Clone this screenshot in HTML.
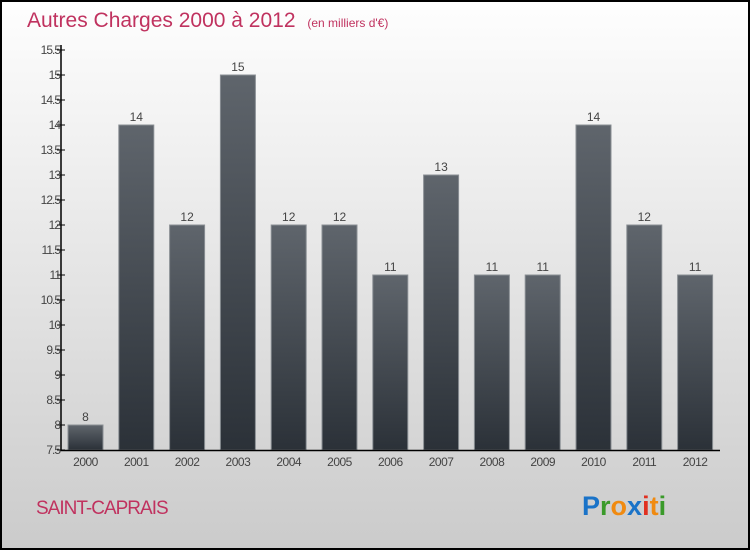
<!DOCTYPE html>
<html><head><meta charset="utf-8"><style>
body{margin:0;width:750px;height:550px;overflow:hidden}
svg{display:block;font-family:"Liberation Sans",sans-serif}
</style></head><body>
<svg id="c" width="750" height="550" xmlns="http://www.w3.org/2000/svg">
<defs>
<linearGradient id="bg" x1="0" y1="0" x2="0" y2="1"><stop offset="0" stop-color="#fefefe"/><stop offset="1" stop-color="#cbcbcb"/></linearGradient>
<linearGradient id="bar" x1="0" y1="0" x2="0" y2="1"><stop offset="0" stop-color="#5f656c"/><stop offset="1" stop-color="#2b3138"/></linearGradient>
</defs>
<rect x="1" y="1" width="748" height="548" fill="url(#bg)" stroke="#000" stroke-width="2"/>
<text x="27" y="27" font-size="21" fill="#c0325f">Autres Charges 2000 à 2012 <tspan font-size="12" dx="6">(en milliers d'€)</tspan></text>
<g id="bars"></g>
<g id="axes"></g>
<text x="36" y="514" font-size="19" fill="#c0325f" letter-spacing="-1">SAINT-CAPRAIS</text>
<text x="582" y="515" font-size="27" font-weight="bold"><tspan fill="#1a73c8">P</tspan><tspan fill="#3a9a2a">r</tspan><tspan fill="#f08a10">o</tspan><tspan fill="#1a73c8">x</tspan><tspan fill="#e03020">i</tspan><tspan fill="#f08a10">t</tspan><tspan fill="#3a9a2a">i</tspan></text>
</svg>
<script>
const years=["2000","2001","2002","2003","2004","2005","2006","2007","2008","2009","2010","2011","2012"];
const values=[8,14,12,15,12,12,11,13,11,11,14,12,11];
const yTicks=[7.5,8,8.5,9,9.5,10,10.5,11,11.5,12,12.5,13,13.5,14,14.5,15,15.5];
const NS="http://www.w3.org/2000/svg";
const y=v=>450-(v-7.5)*50;
const x=i=>68+i*50.8;
const bw=35;
function el(t,a,p){const e=document.createElementNS(NS,t);for(const k in a)e.setAttribute(k,a[k]);p.appendChild(e);return e;}
const bars=document.getElementById('bars'),axes=document.getElementById('axes');
values.forEach((v,i)=>{
 const r=el('rect',{x:x(i),y:y(v),width:bw,height:450-y(v),fill:'url(#bar)',stroke:'#8a8f94','stroke-width':1},bars);
 
 
 const t=el('text',{x:x(i)+bw/2,y:y(v)-4,'text-anchor':'middle','font-size':12,fill:'#444'},bars);
 t.textContent=v;
 
 
 const xl=el('text',{x:x(i)+bw/2,y:466,'text-anchor':'middle','font-size':12,fill:'#444','letter-spacing':'-0.5'},axes);
 xl.textContent=years[i];
 
 
});
const ya=el('line',{x1:61,y1:45,x2:61,y2:451,stroke:'#000','stroke-width':1.5},axes);


const xa=el('line',{x1:60,y1:450.5,x2:720,y2:450.5,stroke:'#000','stroke-width':1.5},axes);


yTicks.forEach(v=>{
 el('line',{x1:57,y1:y(v),x2:65,y2:y(v),stroke:'#000','stroke-width':1},axes);
 const t=el('text',{x:60,y:y(v)+4,'text-anchor':'end','font-size':12,fill:'#444','letter-spacing':'-1'},axes);
 t.textContent=v;
 
 
});
</script>
</body></html>
